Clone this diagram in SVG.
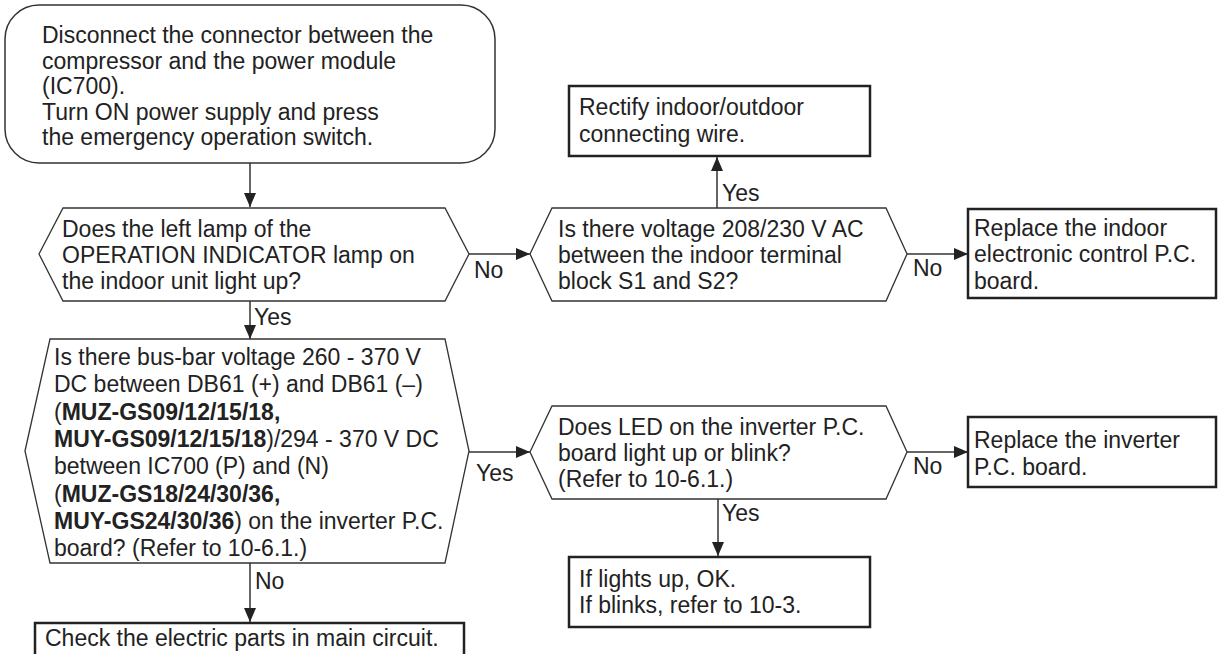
<svg xmlns="http://www.w3.org/2000/svg" width="1218" height="654" viewBox="0 0 1218 654">
<style>
text{font-family:"Liberation Sans",Arial,sans-serif;font-size:23px;fill:#222}
.b{font-weight:bold}
.term{fill:#fff;stroke:#333;stroke-width:1.5}
.dec{fill:#fff;stroke:#333;stroke-width:1.3}
.box{fill:#fff;stroke:#222;stroke-width:2.5}
.con{stroke:#333;stroke-width:1.5;fill:none}
</style>
<defs>
<marker id="ah" markerUnits="userSpaceOnUse" markerWidth="14" markerHeight="12" refX="14" refY="6" orient="auto">
<path d="M0,0 L14,6 L0,12 z" fill="#222"/>
</marker>
</defs>
<g id="connectors">
<line class="con" x1="250" y1="163" x2="250" y2="207" marker-end="url(#ah)"/>
<line class="con" x1="469" y1="254" x2="530" y2="254" marker-end="url(#ah)"/>
<line class="con" x1="717" y1="208" x2="717" y2="157" marker-end="url(#ah)"/>
<line class="con" x1="907" y1="254" x2="968" y2="254" marker-end="url(#ah)"/>
<line class="con" x1="250" y1="301" x2="250" y2="339" marker-end="url(#ah)"/>
<line class="con" x1="469" y1="452" x2="530" y2="452" marker-end="url(#ah)"/>
<line class="con" x1="907" y1="452" x2="968" y2="452" marker-end="url(#ah)"/>
<line class="con" x1="718" y1="499" x2="718" y2="556" marker-end="url(#ah)"/>
<line class="con" x1="250" y1="563" x2="250" y2="622" marker-end="url(#ah)"/>
<text x="474" y="278">No</text>
<text x="722" y="201">Yes</text>
<text x="913" y="276">No</text>
<text x="254" y="325">Yes</text>
<text x="476" y="481">Yes</text>
<text x="913" y="474">No</text>
<text x="722" y="521">Yes</text>
<text x="255" y="589">No</text>
</g>
<g id="start">
<rect class="term" x="5" y="5" width="490" height="158" rx="34"/>
<text x="42" y="43">Disconnect the connector between the</text>
<text x="42" y="68.5">compressor and the power module</text>
<text x="42" y="94">(IC700).</text>
<text x="42" y="119.5">Turn ON power supply and press</text>
<text x="42" y="145">the emergency operation switch.</text>
</g>
<g id="dec1">
<polygon class="dec" points="39,254 63,208 445,208 469,254 445,301 63,301"/>
<text x="62" y="237">Does the left lamp of the</text>
<text x="62" y="263">OPERATION INDICATOR lamp on</text>
<text x="62" y="289">the indoor unit light up?</text>
</g>
<g id="dec2">
<polygon class="dec" points="530,254 552,208 886,208 907,254 886,301 552,301"/>
<text x="558" y="237">Is there voltage 208/230 V AC</text>
<text x="558" y="263">between the indoor terminal</text>
<text x="558" y="289">block S1 and S2?</text>
</g>
<g id="rectify">
<rect class="box" x="569" y="86" width="301" height="70"/>
<text x="579" y="115">Rectify indoor/outdoor</text>
<text x="579" y="142">connecting wire.</text>
</g>
<g id="replaceIndoor">
<rect class="box" x="968" y="209" width="248" height="89"/>
<text x="974" y="236">Replace the indoor</text>
<text x="974" y="262">electronic control P.C.</text>
<text x="974" y="289">board.</text>
</g>
<g id="dec3">
<polygon class="dec" points="25,451 50,339 445,339 469,451 445,563 50,563"/>
<text x="54" y="365">Is there bus-bar voltage 260 - 370 V</text>
<text x="54" y="392.3">DC between DB61 (+) and DB61 (–)</text>
<text x="54" y="419.6">(<tspan class="b">MUZ-GS09/12/15/18,</tspan></text>
<text x="54" y="446.9"><tspan class="b">MUY-GS09/12/15/18</tspan>)/294 - 370 V DC</text>
<text x="54" y="474.2">between IC700 (P) and (N)</text>
<text x="54" y="501.5">(<tspan class="b">MUZ-GS18/24/30/36,</tspan></text>
<text x="54" y="528.8"><tspan class="b">MUY-GS24/30/36</tspan>) on the inverter P.C.</text>
<text x="54" y="556">board? (Refer to 10-6.1.)</text>
</g>
<g id="dec4">
<polygon class="dec" points="530,452 552,406 886,406 907,452 886,499 552,499"/>
<text x="558" y="435">Does LED on the inverter P.C.</text>
<text x="558" y="461">board light up or blink?</text>
<text x="558" y="487">(Refer to 10-6.1.)</text>
</g>
<g id="replaceInverter">
<rect class="box" x="968" y="417" width="248" height="70"/>
<text x="974" y="448">Replace the inverter</text>
<text x="974" y="475">P.C. board.</text>
</g>
<g id="lights">
<rect class="box" x="569" y="557" width="301" height="70"/>
<text x="579" y="587">If lights up, OK.</text>
<text x="579" y="613">If blinks, refer to 10-3.</text>
</g>
<g id="check">
<rect class="box" x="35" y="623" width="429" height="34"/>
<text x="45" y="646">Check the electric parts in main circuit.</text>
</g>
</svg>
